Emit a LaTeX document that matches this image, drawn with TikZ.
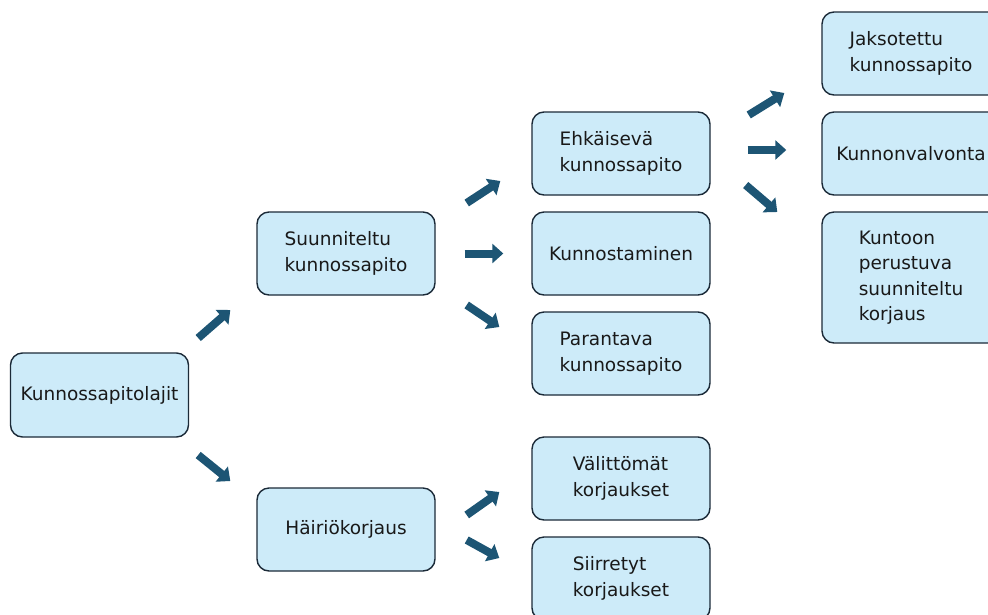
\documentclass[tikz,border=0pt]{standalone}
\usepackage{fontspec}
\setmainfont{DejaVu Sans}
\usetikzlibrary{arrows.meta}

\definecolor{boxfill}{HTML}{CDEBF9}
\definecolor{boxline}{HTML}{1B2A38}
\definecolor{arrowblue}{HTML}{1D5574}

\tikzset{
  box/.style={draw=boxline, fill=boxfill, line width=1.4pt, rounded corners=12pt,
    minimum width=178pt, minimum height=83pt, align=left, inner sep=0pt,
    font=\fontsize{18.5}{25.5}\selectfont, text=black!90},
  flow/.style={draw=arrowblue, line width=8pt, -{Triangle[width=19pt,length=11pt]}}
}

\begin{document}
\begin{tikzpicture}[x=1pt, y=-1pt]
                    \clip (0,0) rectangle (988,614);
                    % vasen taso
                    \node[box, minimum height=84pt] (lajit) at (99.5,395) {Kunnossapitolajit};
                    \node[box] (suun) at (346,253.5) {Suunniteltu\\kunnossapito};
                    \node[box] (hairio) at (346,529.5) {Häiriökorjaus};
                    % keskitaso
                    \node[box] (ehk) at (621,153.5) {Ehkäisevä\\kunnossapito};
                    \node[box] (kunnost) at (621,253.5) {Kunnostaminen};
                    \node[box] (par) at (621,353.5) {Parantava\\kunnossapito};
                    \node[box] (valit) at (621,478.5) {Välittömät\\korjaukset};
                    \node[box] (siirr) at (621,578.5) {Siirretyt\\korjaukset};
                    % oikea taso
                    \node[box] (jakso) at (911,53.5) {Jaksotettu\\kunnossapito};
                    \node[box] (valvo) at (911,153.5) {Kunnonvalvonta};
                    \node[box, minimum height=131pt] (kunto) at (911,277.5) {Kuntoon\\perustuva\\suunniteltu\\korjaus};
                    % nuolet
                    \draw[flow] ([shift={(9,-57)}]lajit.east) -- ([shift={(-26,56.5)}]suun.west);
                    \draw[flow] ([shift={(9,60)}]lajit.east) -- ([shift={(-26,-48.5)}]hairio.west);
                    \draw[flow] ([shift={(31,-50.5)}]suun.east) -- ([shift={(-31,27.5)}]ehk.west);
                    \draw[flow] ([shift={(29,0)}]suun.east) -- ([shift={(-28,0)}]kunnost.west);
                    \draw[flow] ([shift={(31,51.5)}]suun.east) -- ([shift={(-32,-26.5)}]par.west);
                    \draw[flow] ([shift={(38,-38.5)}]ehk.east) -- ([shift={(-37,39.5)}]jakso.west);
                    \draw[flow] ([shift={(37,-3.5)}]ehk.east) -- ([shift={(-35,-3.5)}]valvo.west);
                    \draw[flow] ([shift={(35,31.5)}]ehk.east) -- ([shift={(-44,-65.5)}]kunto.west);
                    \draw[flow] ([shift={(31,-14.5)}]hairio.east) -- ([shift={(-32,13.5)}]valit.west);
                    \draw[flow] ([shift={(31,10.5)}]hairio.east) -- ([shift={(-32,-20.5)}]siirr.west);
                \end{tikzpicture}
\end{document}
